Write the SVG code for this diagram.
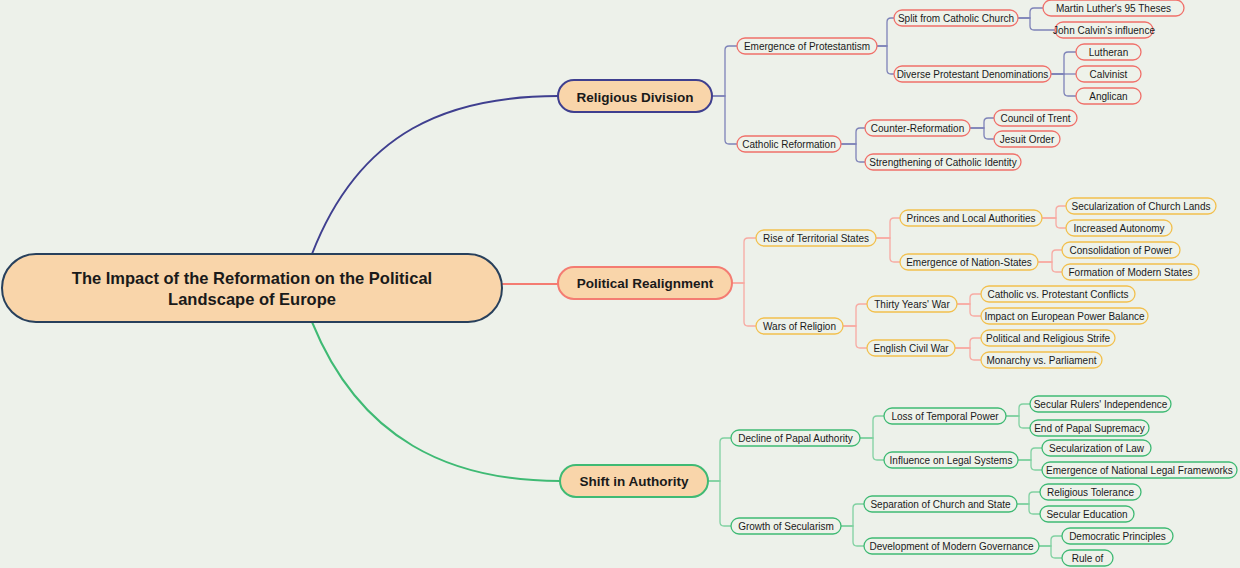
<svg xmlns="http://www.w3.org/2000/svg" width="1240" height="568" viewBox="0 0 1240 568">
<style>
text{font-family:"Liberation Sans",Arial,sans-serif;text-anchor:middle;fill:#1a1a1a}
.t{font-size:10px}
.m{font-size:13.5px;font-weight:bold}
.r{font-size:16.5px;font-weight:bold}
.n rect{stroke-width:1.3}
.rel rect{fill:#eef2ea;stroke:#f0706a}
.pol rect{fill:#eef2ea;stroke:#f2c04e}
.sh rect{fill:#eef2ea;stroke:#3fba74}
.main{fill:#f9d5aa;stroke-width:2}
path{fill:none}
.cr{stroke:#7e83b8;stroke-width:1.3}
.cp{stroke:#f7aaa2;stroke-width:1.3}
.cs{stroke:#80d1a1;stroke-width:1.3}
</style>
<rect width="1240" height="568" fill="#edf1ea"/>
<g id="connectors">
<path d="M312 254 C360 130 450 96 558 96" stroke="#3f3f8f" stroke-width="2"/>
<path d="M502 284 H558" stroke="#f47c72" stroke-width="2"/>
<path d="M312 322 C360 440 450 481 560 481" stroke="#3fba74" stroke-width="2"/>
<g class="cr">
<path d="M712 96 H725 V50 Q725 46 729 46 H737"/>
<path d="M712 96 H725 V140 Q725 144 729 144 H737"/>
<path d="M877 46 H887 V22 Q887 18 891 18 H894"/>
<path d="M877 46 H887 V70 Q887 74 891 74 H894"/>
<path d="M1018 18 H1030 V12 Q1030 8 1034 8 H1043"/>
<path d="M1018 18 H1030 V26 Q1030 30 1034 30 H1055"/>
<path d="M1051 74 H1064 V56 Q1064 52 1068 52 H1076"/>
<path d="M1051 74 H1076"/>
<path d="M1051 74 H1064 V92 Q1064 96 1068 96 H1076"/>
<path d="M841 144 H856 V132 Q856 128 860 128 H865"/>
<path d="M841 144 H856 V158 Q856 162 860 162 H865"/>
<path d="M970 128 H984 V122 Q984 118 988 118 H994"/>
<path d="M970 128 H984 V135 Q984 139 988 139 H994"/>
</g>
<g class="cp">
<path d="M732 283 H744 V242 Q744 238 748 238 H756"/>
<path d="M732 283 H744 V322 Q744 326 748 326 H756"/>
<path d="M876 238 H890 V222 Q890 218 894 218 H900"/>
<path d="M876 238 H890 V258 Q890 262 894 262 H900"/>
<path d="M1042 218 H1056 V210 Q1056 206 1060 206 H1066"/>
<path d="M1042 218 H1056 V224 Q1056 228 1060 228 H1066"/>
<path d="M1038 262 H1052 V254 Q1052 250 1056 250 H1062"/>
<path d="M1038 262 H1052 V268 Q1052 272 1056 272 H1062"/>
<path d="M843 326 H856 V308 Q856 304 860 304 H867"/>
<path d="M843 326 H856 V344 Q856 348 860 348 H867"/>
<path d="M957 304 H970 V298 Q970 294 974 294 H981"/>
<path d="M957 304 H970 V312 Q970 316 974 316 H981"/>
<path d="M955 348 H970 V342 Q970 338 974 338 H981"/>
<path d="M955 348 H970 V356 Q970 360 974 360 H981"/>
</g>
<g class="cs">
<path d="M708 481 H720 V442 Q720 438 724 438 H731"/>
<path d="M708 481 H720 V522 Q720 526 724 526 H731"/>
<path d="M860 438 H873 V420 Q873 416 877 416 H884"/>
<path d="M860 438 H873 V456 Q873 460 877 460 H884"/>
<path d="M1006 416 H1019 V408 Q1019 404 1023 404 H1030"/>
<path d="M1006 416 H1019 V424 Q1019 428 1023 428 H1030"/>
<path d="M1018 460 H1031 V452 Q1031 448 1035 448 H1042"/>
<path d="M1018 460 H1031 V466 Q1031 470 1035 470 H1042"/>
<path d="M841 526 H853 V508 Q853 504 857 504 H864"/>
<path d="M841 526 H853 V542 Q853 546 857 546 H864"/>
<path d="M1017 504 H1029 V496 Q1029 492 1033 492 H1040"/>
<path d="M1017 504 H1029 V510 Q1029 514 1033 514 H1040"/>
<path d="M1039 546 H1051 V540 Q1051 536 1055 536 H1062"/>
<path d="M1039 546 H1051 V554 Q1051 558 1055 558 H1062"/>
</g>
</g>
<g id="root"><rect x="2" y="254" width="500" height="68" rx="34" class="main" stroke="#28405c"/><text class="r" x="252" y="284">The Impact of the Reformation on the Political</text><text class="r" x="252" y="305">Landscape of Europe</text></g>
<g id="religious-division"><rect x="558" y="80" width="154" height="32" rx="16" class="main" stroke="#3f3f8f"/><text class="m" x="635" y="101.5">Religious Division</text></g>
<g id="political-realignment"><rect x="558" y="267" width="174" height="32" rx="16" class="main" stroke="#f47c72"/><text class="m" x="645" y="288">Political Realignment</text></g>
<g id="shift-in-authority"><rect x="560" y="465" width="148" height="32" rx="16" class="main" stroke="#3fba74"/><text class="m" x="634" y="486">Shift in Authority</text></g>
<g class="n rel">
<g id="n1"><rect x="737" y="38" width="140" height="16" rx="8"/><text class="t" x="807" y="49.5">Emergence of Protestantism</text></g>
<g id="n2"><rect x="894" y="10" width="124" height="16" rx="8"/><text class="t" x="956" y="21.5">Split from Catholic Church</text></g>
<g id="n3"><rect x="1043" y="0" width="141" height="16" rx="8"/><text class="t" x="1113.5" y="11.5">Martin Luther's 95 Theses</text></g>
<g id="n4"><rect x="1055" y="22" width="98" height="16" rx="8"/><text class="t" x="1104" y="33.5">John Calvin's influence</text></g>
<g id="n5"><rect x="894" y="66" width="157" height="16" rx="8"/><text class="t" x="972.5" y="77.5">Diverse Protestant Denominations</text></g>
<g id="n6"><rect x="1076" y="44" width="65" height="16" rx="8"/><text class="t" x="1108.5" y="55.5">Lutheran</text></g>
<g id="n7"><rect x="1076" y="66" width="65" height="16" rx="8"/><text class="t" x="1108.5" y="77.5">Calvinist</text></g>
<g id="n8"><rect x="1076" y="88" width="65" height="16" rx="8"/><text class="t" x="1108.5" y="99.5">Anglican</text></g>
<g id="n9"><rect x="737" y="136" width="104" height="16" rx="8"/><text class="t" x="789" y="147.5">Catholic Reformation</text></g>
<g id="n10"><rect x="865" y="120" width="105" height="16" rx="8"/><text class="t" x="917.5" y="131.5">Counter-Reformation</text></g>
<g id="n11"><rect x="994" y="110" width="83" height="16" rx="8"/><text class="t" x="1035.5" y="121.5">Council of Trent</text></g>
<g id="n12"><rect x="994" y="131" width="66" height="16" rx="8"/><text class="t" x="1027" y="142.5">Jesuit Order</text></g>
<g id="n13"><rect x="865" y="154" width="156" height="16" rx="8"/><text class="t" x="943" y="165.5">Strengthening of Catholic Identity</text></g>
</g>
<g class="n pol">
<g id="p1"><rect x="756" y="230" width="120" height="16" rx="8"/><text class="t" x="816" y="241.5">Rise of Territorial States</text></g>
<g id="p2"><rect x="900" y="210" width="142" height="16" rx="8"/><text class="t" x="971" y="221.5">Princes and Local Authorities</text></g>
<g id="p3"><rect x="1066" y="198" width="150" height="16" rx="8"/><text class="t" x="1141" y="209.5">Secularization of Church Lands</text></g>
<g id="p4"><rect x="1066" y="220" width="106" height="16" rx="8"/><text class="t" x="1119" y="231.5">Increased Autonomy</text></g>
<g id="p5"><rect x="900" y="254" width="138" height="16" rx="8"/><text class="t" x="969" y="265.5">Emergence of Nation-States</text></g>
<g id="p6"><rect x="1062" y="242" width="118" height="16" rx="8"/><text class="t" x="1121" y="253.5">Consolidation of Power</text></g>
<g id="p7"><rect x="1062" y="264" width="137" height="16" rx="8"/><text class="t" x="1130.5" y="275.5">Formation of Modern States</text></g>
<g id="p8"><rect x="756" y="318" width="87" height="16" rx="8"/><text class="t" x="799.5" y="329.5">Wars of Religion</text></g>
<g id="p9"><rect x="867" y="296" width="90" height="16" rx="8"/><text class="t" x="912" y="307.5">Thirty Years' War</text></g>
<g id="p10"><rect x="981" y="286" width="154" height="16" rx="8"/><text class="t" x="1058" y="297.5">Catholic vs. Protestant Conflicts</text></g>
<g id="p11"><rect x="981" y="308" width="167" height="16" rx="8"/><text class="t" x="1064.5" y="319.5">Impact on European Power Balance</text></g>
<g id="p12"><rect x="867" y="340" width="88" height="16" rx="8"/><text class="t" x="911" y="351.5">English Civil War</text></g>
<g id="p13"><rect x="981" y="330" width="134" height="16" rx="8"/><text class="t" x="1048" y="341.5">Political and Religious Strife</text></g>
<g id="p14"><rect x="981" y="352" width="121" height="16" rx="8"/><text class="t" x="1041.5" y="363.5">Monarchy vs. Parliament</text></g>
</g>
<g class="n sh">
<g id="s1"><rect x="731" y="430" width="129" height="16" rx="8"/><text class="t" x="795.5" y="441.5">Decline of Papal Authority</text></g>
<g id="s2"><rect x="884" y="408" width="122" height="16" rx="8"/><text class="t" x="945" y="419.5">Loss of Temporal Power</text></g>
<g id="s3"><rect x="1030" y="396" width="141" height="16" rx="8"/><text class="t" x="1100.5" y="407.5">Secular Rulers' Independence</text></g>
<g id="s4"><rect x="1030" y="420" width="119" height="16" rx="8"/><text class="t" x="1089.5" y="431.5">End of Papal Supremacy</text></g>
<g id="s5"><rect x="884" y="452" width="134" height="16" rx="8"/><text class="t" x="951" y="463.5">Influence on Legal Systems</text></g>
<g id="s6"><rect x="1042" y="440" width="109" height="16" rx="8"/><text class="t" x="1096.5" y="451.5">Secularization of Law</text></g>
<g id="s7"><rect x="1042" y="462" width="195" height="16" rx="8"/><text class="t" x="1139.5" y="473.5">Emergence of National Legal Frameworks</text></g>
<g id="s8"><rect x="731" y="518" width="110" height="16" rx="8"/><text class="t" x="786" y="529.5">Growth of Secularism</text></g>
<g id="s9"><rect x="864" y="496" width="153" height="16" rx="8"/><text class="t" x="940.5" y="507.5">Separation of Church and State</text></g>
<g id="s10"><rect x="1040" y="484" width="101" height="16" rx="8"/><text class="t" x="1090.5" y="495.5">Religious Tolerance</text></g>
<g id="s11"><rect x="1040" y="506" width="94" height="16" rx="8"/><text class="t" x="1087" y="517.5">Secular Education</text></g>
<g id="s12"><rect x="864" y="538" width="175" height="16" rx="8"/><text class="t" x="951.5" y="549.5">Development of Modern Governance</text></g>
<g id="s13"><rect x="1062" y="528" width="111" height="16" rx="8"/><text class="t" x="1117.5" y="539.5">Democratic Principles</text></g>
<g id="s14"><rect x="1062" y="550" width="51" height="16" rx="8"/><text class="t" x="1087.5" y="561.5">Rule of</text></g>
</g>
</svg>
